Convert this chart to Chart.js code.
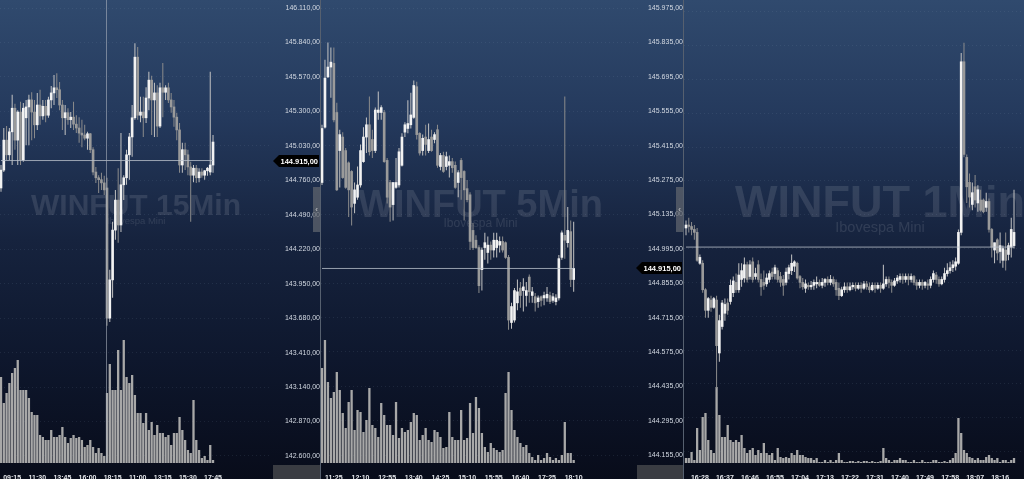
<!DOCTYPE html>
<html>
<head>
<meta charset="utf-8">
<script src="https://cdn.jsdelivr.net/npm/chart.js@4.4.1/dist/chart.umd.min.js"></script>
<style>
  html, body { margin: 0; padding: 0; width: 1024px; height: 479px; overflow: hidden;
    background: linear-gradient(180deg, #304a6e 0%, #24395c 25%, #16233e 50%, #0e172d 75%, #080c1a 100%); }
  .pane { position: absolute; top: 0; height: 479px; }
  #w1 { left: 0; width: 320px; }
  #w2 { left: 320px; width: 362px; border-left: 1px solid #56606f; }
  #w3 { left: 683px; width: 437px; border-left: 1px solid #56606f; }
  .box { position: absolute; top: 465px; height: 14px; background: #3a3c42; }
  .handle { position: absolute; top: 187px; width: 7px; height: 45px; background: rgba(95,100,110,.75);
    color: #ccc; font: 8px 'Liberation Sans', sans-serif; line-height: 45px; text-align: center; }
  canvas { display: block; }
</style>
</head>
<body>
<div class="pane" id="w1"><canvas id="c1" width="320" height="479"></canvas></div>
<div class="pane" id="w2"><canvas id="c2" width="362" height="479"></canvas></div>
<div class="pane" id="w3"><canvas id="c3" width="437" height="479"></canvas></div>
<div class="box" style="left:273px;width:47px"></div>
<div class="box" style="left:637px;width:46px"></div>
<div class="handle" style="left:313px">&lsaquo;</div>
<div class="handle" style="left:676px">&lsaquo;</div>
<script>
// WINFUT 15Min
const p1Open = [144700,144840,145075,144960,145140,145325,145075,145295,144920,145250,145335,145390,145295,145195,145350,145265,145340,145270,145390,145445,145485,145470,145350,145250,145290,145235,145255,145200,145170,145130,145115,145090,145125,145000,144825,144780,144765,144740,144700,143680,143980,144370,144605,144410,144725,144780,144960,145100,145250,145725,145270,145295,145250,145405,145545,145390,145445,145185,145485,145450,145485,145390,145335,145255,145155,144880,145000,144960,144865,144800,144855,144780,144825,144800,144835,144825,144880];
const p1High = [144880,145170,145185,145170,145430,145360,145310,145375,145365,145390,145430,145450,145390,145445,145470,145390,145390,145415,145500,145585,145600,145530,145390,145350,145325,145295,145375,145270,145255,145235,145195,145140,145130,145020,144865,144800,144820,144795,144780,144060,144435,144685,144855,145130,144800,145000,145130,145350,145835,145805,145415,145415,145490,145610,145580,145525,145505,145525,145680,145505,145525,145445,145390,145290,145210,145055,145055,145000,144905,144880,144880,144855,144855,144840,144865,145610,145115];
const p1Low = [144670,144825,144920,144920,144880,145000,144880,144880,144905,145035,145035,145075,145090,145155,145195,145235,145215,145250,145325,145350,145405,145310,145155,145115,145195,145170,145155,145130,145055,145020,145075,145000,144975,144800,144740,144660,144685,144645,143620,143650,143840,144295,144270,144355,144605,144725,144765,144945,145235,145235,145215,145100,145210,145310,145115,145100,145100,145170,145255,145390,145365,145290,145180,145075,144820,144820,144840,144800,144435,144745,144740,144745,144780,144765,144795,144800,144820];
const p1Close = [144840,145075,144960,145140,145325,145075,145295,144920,145325,145335,145390,145295,145195,145350,145265,145340,145270,145390,145445,145485,145470,145350,145250,145290,145235,145255,145200,145170,145130,145115,145090,145125,145000,144825,144780,144765,144740,144685,143680,143980,144370,144605,144410,144725,144780,144960,145100,145250,145725,145270,145295,145250,145405,145545,145390,145445,145185,145485,145450,145485,145390,145335,145255,145155,144880,145000,144960,144865,144800,144855,144780,144825,144800,144835,144855,144880,145060];
const p1Vol = [86,60,70,80,90,95,103,73,73,73,65,51,48,48,28,26,23,23,33,26,26,28,36,26,20,25,28,25,26,23,16,18,23,16,10,15,10,7,70,99,73,73,113,73,123,86,80,88,68,50,50,40,50,33,41,28,38,30,30,26,28,18,30,30,46,33,23,13,10,63,23,13,5,7,3,18,3];
const p1TickAt = [4,13,22,31,40,49,58,67,76];
const p1TickLabels = ['09:15','11:30','13:45','16:00','18:15','11:00','13:15','15:30','17:45'];
const p1PriceTicks = [146110,145840,145570,145300,145030,144760,144490,144220,143950,143680,143410,143140,142870,142600];

// WINFUT 5Min
const p2Open = [145265,145490,145695,145735,145750,145550,145395,145450,145395,145345,145310,145180,145205,145255,145350,145450,145500,145440,145395,145550,145550,145550,145355,145265,145175,145245,145255,145335,145470,145485,145500,145530,145655,145465,145395,145450,145395,145450,145440,145480,145330,145375,145330,145335,145350,145335,145265,145355,145310,145240,145215,145070,145030,145000,144910,145000,144980,145010,144990,145000,145010,145025,145020,144960,144695,144705,144775,144835,144825,144805,144880,144805,144800,144780,144800,144795,144795,144805,144785,144780,144795,144960,145050,145020,145065,144870];
const p2High = [145500,145765,145835,145815,145815,145590,145480,145470,145405,145350,145315,145265,145330,145420,145490,145530,145615,145480,145570,145635,145580,145560,145365,145275,145265,145365,145405,145465,145510,145600,145630,145680,145675,145470,145460,145500,145505,145480,145470,145500,145385,145390,145390,145375,145365,145350,145315,145365,145315,145275,145225,145100,145050,145010,145000,145060,145045,145025,145060,145060,145045,145045,145025,144970,144775,144835,144870,144860,144875,144860,144890,144840,144815,144805,144805,144820,144840,144820,144815,144810,144970,145070,145615,145165,145110,145105];
const p2Low = [145255,145485,145690,145610,145510,145230,145245,145280,145240,145125,145090,145140,145195,145245,145345,145385,145375,145365,145385,145520,145520,145345,145180,145105,145110,145240,145245,145330,145450,145465,145485,145525,145440,145375,145375,145375,145385,145390,145425,145325,145315,145305,145315,145285,145305,145240,145205,145195,145110,145185,144990,144990,144995,144815,144825,144950,144935,144950,144960,144960,144980,144980,144955,144665,144670,144695,144745,144755,144740,144760,144775,144775,144740,144755,144760,144765,144780,144770,144775,144765,144785,144950,144955,145000,144840,144820];
const p2Close = [145485,145690,145735,145755,145520,145235,145460,145285,145245,145235,145165,145235,145255,145395,145450,145500,145390,145395,145560,145560,145570,145350,145205,145165,145265,145265,145390,145450,145500,145505,145540,145660,145460,145385,145445,145420,145440,145395,145460,145335,145375,145310,145370,145350,145325,145245,145305,145285,145235,145195,145025,145000,145000,144845,144990,145020,145010,144990,145030,145030,145025,144990,144960,144705,144760,144825,144820,144805,144840,144825,144820,144820,144775,144795,144785,144805,144810,144780,144800,144795,144955,145060,145030,145070,144870,144915];
const p2Vol = [95,123,81,65,71,91,73,50,35,61,73,33,53,51,31,43,75,38,35,26,60,48,38,38,28,61,25,35,31,33,41,50,48,23,28,35,23,21,33,31,26,15,16,51,26,23,23,53,23,25,60,30,66,55,30,16,11,20,15,13,11,13,70,91,53,33,26,20,16,18,10,6,3,8,3,5,10,6,3,5,3,8,41,10,10,3];
const p2TickAt = [4,13,22,31,40,49,58,67,76,85];
const p2TickLabels = ['11:25','12:10','12:55','13:40','14:25','15:10','15:55','16:40','17:25','18:10'];
const p2PriceTicks = [145975,145835,145695,145555,145415,145275,145135,144995,144855,144715,144575,144435,144295,144155];

// WINFUT 1Min
const p3Open = [144980,144990,144985,144975,144965,144860,144860,144770,144700,144735,144710,144735,144555,144645,144690,144725,144730,144760,144795,144770,144805,144810,144855,144815,144865,144815,144855,144805,144795,144790,144805,144830,144825,144835,144815,144805,144795,144825,144835,144850,144860,144815,144795,144775,144785,144780,144785,144790,144795,144785,144795,144805,144795,144805,144795,144775,144750,144770,144780,144770,144780,144785,144775,144785,144775,144790,144780,144770,144785,144775,144785,144775,144790,144805,144795,144785,144800,144805,144815,144805,144815,144805,144815,144795,144785,144795,144785,144790,144785,144805,144820,144805,144790,144805,144825,144835,144845,144850,144860,144965,145545,145220,145135,145060,145120,145065,145075,145075,145050,145070,144975,144905,144940,144900,144870,144905,144890,144915,144920];
const p3High = [145005,145015,145000,144990,144980,144890,144870,144775,144745,144750,144745,144750,144685,144735,144740,144740,144805,144815,144825,144860,144860,144880,144865,144870,144880,144845,144870,144825,144835,144825,144835,144845,144855,144845,144830,144820,144845,144855,144890,144870,144865,144820,144810,144805,144795,144800,144805,144815,144805,144810,144810,144815,144820,144815,144805,144795,144780,144795,144795,144795,144795,144795,144795,144795,144800,144800,144795,144795,144795,144795,144795,144855,144815,144815,144805,144810,144820,144825,144825,144825,144825,144825,144820,144805,144805,144805,144800,144805,144815,144835,144830,144815,144815,144845,144860,144865,144870,144880,144975,145575,145610,145230,145165,145135,145160,145125,145110,145080,145100,145080,144980,144930,144945,144965,144920,144965,144930,145015,145110];
const p3Low = [144955,144965,144955,144940,144865,144855,144760,144675,144675,144695,144705,144435,144525,144635,144665,144685,144720,144745,144760,144760,144780,144795,144795,144805,144795,144805,144795,144750,144770,144780,144795,144805,144805,144795,144780,144750,144785,144805,144820,144830,144805,144775,144770,144760,144770,144770,144770,144775,144780,144775,144780,144785,144785,144780,144750,144735,144745,144760,144760,144765,144770,144765,144770,144760,144770,144770,144760,144765,144760,144770,144760,144770,144780,144775,144760,144780,144790,144795,144790,144795,144785,144795,144785,144770,144775,144770,144775,144770,144775,144795,144790,144780,144785,144795,144815,144825,144830,144835,144855,144955,145220,145065,145050,145040,145050,145035,145035,145030,145035,144965,144880,144860,144870,144860,144845,144835,144870,144880,144910];
const p3Close = [144990,144985,144975,144965,144870,144880,144770,144700,144740,144710,144740,144580,144665,144725,144720,144700,144785,144800,144770,144820,144835,144855,144805,144855,144805,144825,144805,144780,144785,144810,144825,144815,144845,144805,144795,144785,144830,144845,144860,144865,144810,144795,144780,144790,144780,144785,144795,144795,144785,144795,144805,144795,144805,144790,144770,144750,144770,144780,144770,144780,144785,144775,144785,144775,144790,144780,144770,144785,144775,144785,144775,144790,144805,144795,144785,144800,144810,144815,144805,144815,144805,144815,144795,144785,144795,144785,144795,144785,144805,144825,144805,144790,144805,144825,144835,144845,144855,144865,144965,145545,145230,145120,145085,145100,145075,145110,145040,145035,145070,144975,144915,144930,144895,144920,144910,144870,144920,144975,144965];
const p3Vol = [5,5,11,3,35,13,46,50,23,13,10,76,48,26,26,38,23,21,23,21,28,15,10,13,15,8,13,10,20,10,8,10,3,15,6,5,6,5,10,8,13,8,8,6,5,5,3,5,1,1,3,1,3,1,3,10,3,1,1,2,2,1,2,1,2,2,1,2,1,1,2,15,5,3,1,3,3,5,3,3,1,1,3,1,1,3,1,1,1,3,3,1,1,2,1,3,5,10,45,30,13,10,6,5,3,5,3,3,6,8,5,3,5,1,3,3,1,3,5];
const p3TickAt = [5,14,23,32,41,50,59,68,77,86,95,104,113];
const p3TickLabels = ['16:28','16:37','16:46','16:55','17:04','17:13','17:22','17:31','17:40','17:49','17:58','18:07','18:16'];
const p3PriceTicks = [145715,145600,145485,145370,145255,145140,145025,144910,144795,144680,144565,144450,144335,144220];

const lastPrice = 144915;

const FAMILY = '"Liberation Sans", Arial, sans-serif';
const UP = '#f2f2f2', DOWN = '#9a9a9a', UPW = '#c4c4c4', DOWNW = '#8c8c8c';

function fmt(v) {
  const s = String(Math.round(v));
  return s.slice(0, -3) + '.' + s.slice(-3) + ',00';
}

const deco = {
  id: 'deco',
  beforeDatasetsDraw(chart, args, o) {
    const { ctx, chartArea: a } = chart;
    const cx = (a.left + a.right) / 2;
    ctx.save();
    ctx.textAlign = 'center';
    ctx.fillStyle = 'rgba(255,255,255,0.11)';
    ctx.font = 'bold ' + o.titleSize + 'px ' + FAMILY;
    ctx.fillText(o.title, cx, o.titleY);
    ctx.font = o.subSize + 'px ' + FAMILY;
    ctx.fillText(o.sub, cx, o.subY);
    ctx.restore();
  },
  afterDatasetsDraw(chart, args, o) {
    if (o.cross == null) return;
    const { ctx, chartArea: a } = chart;
    const x = Math.round(chart.scales.x.getPixelForValue(o.cross)) + 0.5;
    ctx.save();
    ctx.strokeStyle = 'rgba(170,176,188,0.6)';
    ctx.lineWidth = 1;
    ctx.beginPath();
    ctx.moveTo(x, a.top);
    ctx.lineTo(x, a.bottom);
    ctx.stroke();
    ctx.restore();
  },
  afterDraw(chart, args, o) {
    if (o.marker == null) return;
    const ctx = chart.ctx;
    const y = Math.round(chart.scales.y.getPixelForValue(o.marker));
    const r = chart.width - 1, l = chart.width - 47;
    ctx.save();
    ctx.fillStyle = '#000';
    ctx.beginPath();
    ctx.moveTo(l, y);
    ctx.lineTo(l + 6, y - 6);
    ctx.lineTo(r, y - 6);
    ctx.lineTo(r, y + 6);
    ctx.lineTo(l + 6, y + 6);
    ctx.closePath();
    ctx.fill();
    ctx.fillStyle = '#fff';
    ctx.font = 'bold 7.5px ' + FAMILY;
    ctx.textAlign = 'right';
    ctx.textBaseline = 'middle';
    ctx.fillText(fmt(o.marker), r - 1, y + 0.5);
    ctx.restore();
  }
};

function candlePanel(id, p) {
  const n = p.close.length;
  const idx = p.close.map((_, i) => i);
  const up = idx.map(i => p.close[i] >= p.open[i]);
  return new Chart(document.getElementById(id), {
    type: 'bar',
    data: {
      datasets: [
        { type: 'line', data: [{ x: 0, y: p.line }, { x: n - 1, y: p.line }],
          borderColor: 'rgba(185,192,204,0.8)', borderWidth: 1, pointRadius: 0, order: 0 },
        { data: idx.map(i => ({ x: i, y: [p.open[i], p.close[i]] })),
          backgroundColor: up.map(u => u ? UP : DOWN), barThickness: 2, minBarLength: 1,
          grouped: false, order: 1 },
        { data: idx.map(i => ({ x: i, y: [p.low[i], p.high[i]] })),
          backgroundColor: up.map(u => u ? UPW : DOWNW), barThickness: 1,
          grouped: false, inflateAmount: 0, order: 2 },
        { data: idx.map(i => ({ x: i, y: p.vol[i] })), yAxisID: 'v',
          backgroundColor: 'rgb(168,168,168)', barThickness: 2.3,
          grouped: false, inflateAmount: 0, order: 3 }
      ]
    },
    options: {
      responsive: false,
      maintainAspectRatio: false,
      animation: false,
      events: [],
      layout: { padding: 0 },
      plugins: { legend: { display: false }, tooltip: { enabled: false }, deco: p.deco },
      scales: {
        x: {
          type: 'linear', min: p.xMin, max: p.xMax, offset: false,
          grid: { display: false }, border: { display: false },
          ticks: { autoSkip: false, maxRotation: 0, padding: 3, color: '#e4e6ea',
                   font: { family: FAMILY, size: 7, weight: 'bold' },
                   callback: (v, i) => p.tickLabels[i] },
          afterBuildTicks: s => { s.ticks = p.tickAt.map(v => ({ value: v })); },
          afterFit: s => { s.height = 16; s.paddingLeft = 0; s.paddingRight = 0; }
        },
        y: {
          type: 'linear', position: 'right', min: p.yMin, max: p.yMax,
          grid: { color: 'rgba(150,170,200,0.12)', drawTicks: false },
          border: { display: false, dash: [1, 3] },
          ticks: { autoSkip: false, crossAlign: 'far', padding: p.yPad, color: '#d3d9e2',
                   font: { family: FAMILY, size: 7 }, callback: v => fmt(v) },
          afterBuildTicks: s => { s.ticks = p.priceTicks.map(v => ({ value: v })); },
          afterFit: s => { s.width = p.yWidth; s.paddingTop = 0; s.paddingBottom = 0; }
        },
        v: { display: false, min: 0, max: 463 }
      }
    },
    plugins: [deco]
  });
}

candlePanel('c1', {
  open: p1Open, high: p1High, low: p1Low, close: p1Close, vol: p1Vol,
  tickAt: p1TickAt, tickLabels: p1TickLabels, priceTicks: p1PriceTicks, line: lastPrice,
  xMin: -0.36, xMax: 97.14, yMin: 142545, yMax: 146173, yWidth: 48, yPad: 9,
  deco: { title: 'WINFUT 15Min', sub: 'Ibovespa Mini', titleSize: 30, subSize: 9.5,
          titleY: 215, subY: 224, cross: 37.6, marker: lastPrice }
});
candlePanel('c2', {
  open: p2Open, high: p2High, low: p2Low, close: p2Close, vol: p2Vol,
  tickAt: p2TickAt, tickLabels: p2TickLabels, priceTicks: p2PriceTicks, line: lastPrice,
  xMin: -0.34, xMax: 107.4, yMin: 144123, yMax: 146008, yWidth: 43, yPad: 5,
  deco: { title: 'WINFUT 5Min', sub: 'Ibovespa Mini', titleSize: 38, subSize: 12,
          titleY: 217, subY: 227, cross: null, marker: lastPrice }
});
candlePanel('c3', {
  open: p3Open, high: p3High, low: p3Low, close: p3Close, vol: p3Vol,
  tickAt: p3TickAt, tickLabels: p3TickLabels, priceTicks: p3PriceTicks, line: lastPrice,
  xMin: -0.72, xMax: 140.3, yMin: 144181, yMax: 145755, yWidth: 45, yPad: 6,
  deco: { title: 'WINFUT 1Min', sub: 'Ibovespa Mini', titleSize: 45, subSize: 14.5,
          titleY: 217, subY: 232, cross: null, marker: null }
});
</script>
</body>
</html>
